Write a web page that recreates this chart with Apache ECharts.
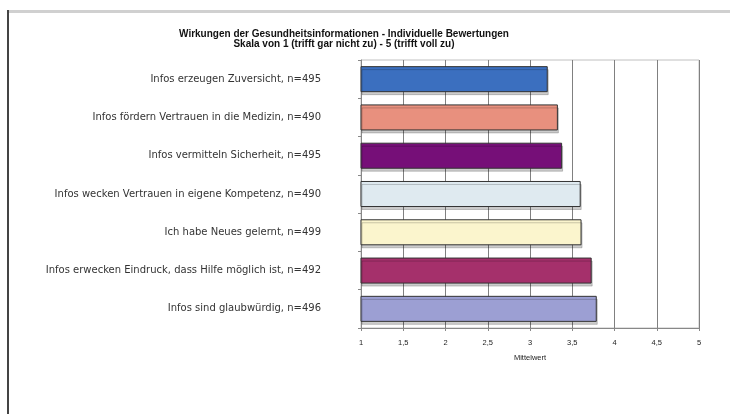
<!DOCTYPE html>
<html><head><meta charset="utf-8">
<script src="https://cdn.jsdelivr.net/npm/echarts@6/dist/echarts.min.js"></script>
<style>html,body{margin:0;padding:0;background:#fff}#c{width:730px;height:414px}</style>
</head><body><div id="c"></div>
<script>
const categories = [
  "Infos erzeugen Zuversicht, n=495",
  "Infos fördern Vertrauen in die Medizin, n=490",
  "Infos vermitteln Sicherheit, n=495",
  "Infos wecken Vertrauen in eigene Kompetenz, n=490",
  "Ich habe Neues gelernt, n=499",
  "Infos erwecken Eindruck, dass Hilfe möglich ist, n=492",
  "Infos sind glaubwürdig, n=496"
];
const values = [3.21, 3.33, 3.38, 3.60, 3.61, 3.73, 3.79];
const barColors = ["#3b6fbf", "#e8907e", "#760f78", "#dfeaf0", "#fbf5cd", "#a5306b", "#9c9fd3"];
const titleLines = [
  "Wirkungen der Gesundheitsinformationen - Individuelle Bewertungen",
  "Skala von 1 (trifft gar nicht zu) - 5 (trifft voll zu)"
];
const axisName = "Mittelwert";

const chart = echarts.init(document.getElementById('c'), null, {renderer: 'canvas'});
chart.setOption({
  animation: false,
  backgroundColor: '#fff',
  title: {
    text: titleLines.join('\n'),
    left: 339, top: 24, textAlign: 'center',
    textStyle: {fontFamily: 'Liberation Sans', fontSize: 10, fontWeight: 'bold', color: '#111', lineHeight: 10}
  },
  graphic: [
    {type: 'rect', shape: {x: 8, y: 10, width: 730, height: 3}, style: {fill: '#d0d0d0'}},
    {type: 'rect', shape: {x: 7, y: 10, width: 2, height: 404}, style: {fill: '#444'}}
  ],
  grid: {left: 361, right: 31, top: 60, bottom: 86, show: true, borderColor: '#c0c0c0', borderWidth: 1, backgroundColor: '#fff'},
  xAxis: {
    type: 'value', min: 1, max: 5, interval: 0.5,
    name: axisName, nameLocation: 'middle', nameGap: 26,
    nameTextStyle: {fontFamily: 'Liberation Sans', fontSize: 7.5, color: '#222'},
    axisLine: {show: true, lineStyle: {color: '#888'}},
    axisTick: {show: true, length: 3, lineStyle: {color: '#888'}},
    axisLabel: {fontFamily: 'Liberation Sans', fontSize: 7.5, color: '#222', margin: 11,
      formatter: v => String(v).replace('.', ',')},
    splitLine: {show: true, lineStyle: {color: '#808080', width: 1}}
  },
  yAxis: {
    type: 'category', data: categories, inverse: true,
    axisLine: {show: true, lineStyle: {color: '#888'}},
    axisTick: {show: true, length: 3, lineStyle: {color: '#888'}},
    axisLabel: {fontFamily: 'DejaVu Sans', fontSize: 10, color: '#333', margin: 40}
  },
  series: [{
    type: 'bar', data: values.map((v, i) => ({value: v, itemStyle: {color: barColors[i]}})),
    barCategoryGap: '32%',
    itemStyle: {borderColor: '#333', borderWidth: 1, shadowColor: 'rgba(0,0,0,0.2)', shadowOffsetX: 1, shadowOffsetY: 3}
  }]
});
</script></body></html>
